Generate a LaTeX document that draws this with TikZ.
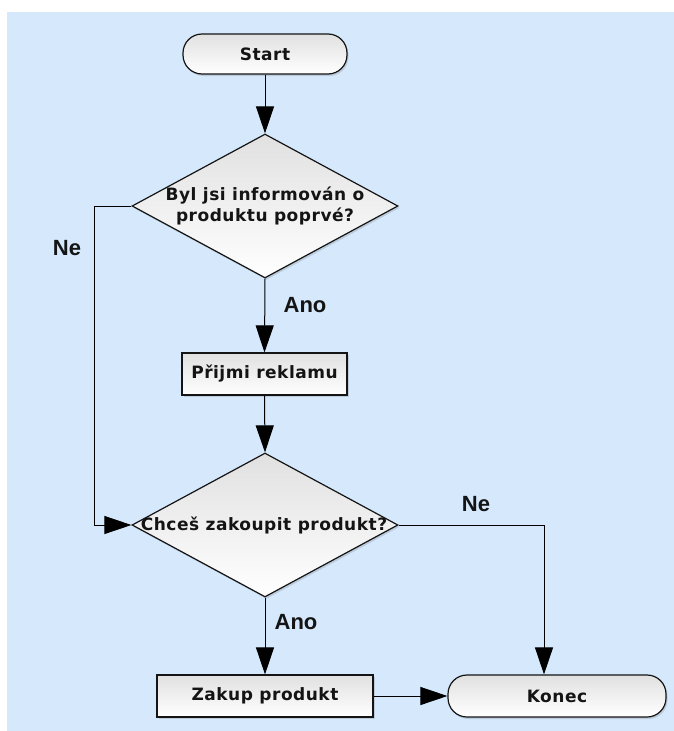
\documentclass[tikz,border=0pt]{standalone}
\usepackage{fontspec}
\setmainfont{DejaVu Sans}
\newfontfamily\labfont{Liberation Sans}
\newfontfamily\boxfont[LetterSpace=3]{DejaVu Sans}
\usetikzlibrary{shapes.geometric,arrows.meta,shadows}
\definecolor{bgblue}{RGB}{213,232,252}
\definecolor{ink}{RGB}{20,20,20}
\tikzset{
  shapebox/.style={draw=ink, line width=1.2pt, top color=black!12, bottom color=white,
    text=ink, inner sep=0pt,
    drop shadow={opacity=0.18, shadow xshift=1.5pt, shadow yshift=-2pt, fill=black!70}},
  nodefont/.style={font=\boxfont\bfseries\fontsize{17}{21}\selectfont, text=ink},
  proc/.style={shapebox, nodefont, rectangle},
  term/.style={shapebox, nodefont, rectangle, rounded corners=19pt},
  decision/.style={shapebox, diamond, minimum width=266pt, minimum height=144pt},
  qtext/.style={nodefont, align=center, inner sep=0pt},
  lbl/.style={font=\labfont\bfseries\fontsize{22}{26}\selectfont, text=ink},
  conn/.style={draw=black, line width=1pt, -{Triangle[length=27pt,width=18pt]}},
  plainline/.style={draw=black, line width=1pt}
}
\begin{document}
\begin{tikzpicture}[x=1pt,y=-1pt]
  \useasboundingbox (0,0) rectangle (674,731);
  \fill[white] (0,0) rectangle (674,731);
  \fill[bgblue] (7,12) rectangle (674,731);

  \node[term, minimum width=164pt, minimum height=40pt] (start) at (265,54) {Start};
  \node[decision] (d1) at (265,206) {};
  \node[qtext] (d1t) at (265,206) {Byl jsi informován o\\produktu poprvé?};
  \node[proc, minimum width=165pt, minimum height=42pt] (rek) at (264.5,374) {Přijmi reklamu};
  \node[decision] (d2) at (265,525) {};
  \node[qtext] (d2t) at (264,525) {Chceš zakoupit produkt?};
  \node[proc, minimum width=216pt, minimum height=42pt] (zak) at (265,696) {Zakup produkt};
  \node[term, minimum width=218pt, minimum height=42pt] (kon) at (557,696) {Konec};

  \coordinate (lx) at (94,206);
  \coordinate (rx) at (544,525);

  \draw[conn] (start) -- (d1.north);
  \draw[conn] (d1.south) -- (rek.north);
  \draw[conn] (rek.south) -- (d2.north);
  \draw[conn] (d1.west) -- (lx) |- (d2.west);
  \draw[conn] (d2.east) -- (rx) -- (rx |- kon.north);
  \draw[conn] (d2.south) -- (zak.north);
  \draw[conn] (zak.east) -- (kon.west);

  \node[lbl] (ne1) at (67,248) {Ne};
  \node[lbl] (ano1) at (305,305) {Ano};
  \node[lbl] (ne2) at (476,504) {Ne};
  \node[lbl] (ano2) at (296,622) {Ano};
\end{tikzpicture}
\end{document}
